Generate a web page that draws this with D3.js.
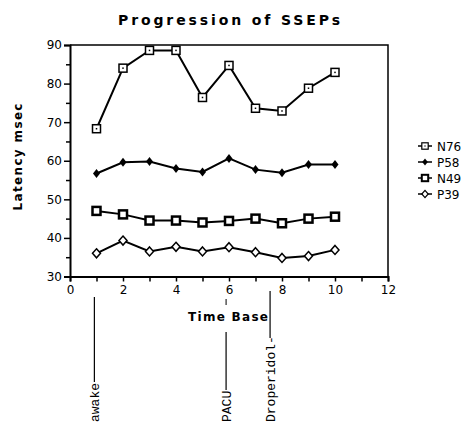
<!DOCTYPE html>
<html lang="en">
<head>
	<meta charset="utf-8">
	<script src="https://d3js.org/d3.v7.min.js"></script>
	<style type="text/css">
		body { margin: 0; background: #fff; }
		svg { font-family: "DejaVu Sans", sans-serif; }
	</style>
</head>
<body>
	<script type="text/javascript">

	// time base positions
	var timeBase = [1, 2, 3, 4, 5, 6, 7, 8, 9, 10];

	var N76 = [68.3, 84.0, 88.6, 88.6, 76.4, 84.7, 73.6, 72.9, 78.8, 82.9];
	var P58 = [56.7, 59.6, 59.8, 58.0, 57.1, 60.6, 57.7, 56.9, 59.0, 59.0];
	var N49 = [47.0, 46.1, 44.5, 44.5, 44.0, 44.4, 45.0, 43.8, 45.0, 45.5];
	var P39 = [36.0, 39.3, 36.5, 37.7, 36.5, 37.6, 36.3, 34.8, 35.3, 36.9];

	var seriesNames = ["N76", "P58", "N49", "P39"];
	var xTicks = [0, 2, 4, 6, 8, 10, 12];
	var yTicks = [30, 40, 50, 60, 70, 80, 90];

	var events = ["awake", "PACU", "Droperidol"];
	var eventTimes = [0.92, 5.89, 7.55];

	var width = 474, height = 423;
	var x = d3.scaleLinear().domain([0, 12]).range([70, 388]);
	var y = d3.scaleLinear().domain([30, 90]).range([276.5, 45]);

	var svg = d3.select("body").append("svg")
		.attr("width", width)
		.attr("height", height);

	// title
	svg.append("text")
		.attr("x", 229).attr("y", 25)
		.attr("text-anchor", "middle")
		.attr("font-size", 14).attr("font-weight", "bold")
		.attr("textLength", 222).attr("lengthAdjust", "spacing")
		.text("Progression of SSEPs");

	// frame top/right
	svg.append("path")
		.attr("d", "M" + x(0) + "," + y(90) + "H" + x(12) + "V" + y(30))
		.attr("fill", "none").attr("stroke", "#000").attr("stroke-width", 1.5);

	// axes
	var yAxis = d3.axisLeft(y).tickValues(d3.range(30, 91, 5)).tickSize(6)
		.tickFormat(function(d) { return yTicks.indexOf(d) >= 0 ? d : ""; });
	var gy = svg.append("g").attr("transform", "translate(" + x(0) + ",0)").call(yAxis);

	var xAxis = d3.axisBottom(x).tickValues(d3.range(0, 13, 1)).tickSize(5)
		.tickFormat(function(d) { return xTicks.indexOf(d) >= 0 ? d : ""; });
	var gx = svg.append("g").attr("transform", "translate(0," + y(30) + ")").call(xAxis);

	[gx, gy].forEach(function(g) {
		g.select(".domain").attr("stroke-width", 2);
		g.selectAll(".tick line").attr("stroke-width", 1.5);
		g.selectAll("text").attr("font-size", 12).attr("fill", "#000")
			.attr("font-family", "DejaVu Sans, sans-serif");
	});
	gy.selectAll(".tick line").attr("x2", function(d) { return d % 10 === 0 ? -6 : -4; });
	gy.selectAll("text").attr("x", -8);
	gx.selectAll("text").attr("y", 9);

	// axis titles
	svg.append("text")
		.attr("transform", "translate(22,157) rotate(-90)")
		.attr("text-anchor", "middle")
		.attr("font-size", 12).attr("font-weight", "bold")
		.attr("textLength", 107).attr("lengthAdjust", "spacing")
		.text("Latency msec");

	svg.append("text")
		.attr("x", 228).attr("y", 321)
		.attr("text-anchor", "middle")
		.attr("font-size", 12).attr("font-weight", "bold")
		.attr("textLength", 80).attr("lengthAdjust", "spacing")
		.text("Time Base");

	// marker shapes
	function marker(g, name) {
		if (name === "N76") {
			g.append("rect").attr("x", -4).attr("y", -4).attr("width", 8).attr("height", 8)
				.attr("fill", "#fff").attr("stroke", "#000").attr("stroke-width", 1.5);
			g.append("rect").attr("x", -0.75).attr("y", -0.75).attr("width", 1.5).attr("height", 1.5).attr("fill", "#000");
		} else if (name === "P58") {
			g.append("path").attr("d", "M0,-4.5L3.5,0L0,4.5L-3.5,0Z").attr("fill", "#000");
		} else if (name === "N49") {
			g.append("rect").attr("x", -4).attr("y", -4).attr("width", 8).attr("height", 8)
				.attr("fill", "#fff").attr("stroke", "#000").attr("stroke-width", 2.5);
		} else {
			g.append("path").attr("d", "M0,-4.5L4,0L0,4.5L-4,0Z")
				.attr("fill", "#fff").attr("stroke", "#000").attr("stroke-width", 1.5);
		}
	}

	var allSeries = [N76, P58, N49, P39];
	var line = d3.line().x(function(d, i) { return x(timeBase[i]); }).y(function(d) { return y(d); });

	allSeries.forEach(function(vals, s) {
		svg.append("path").datum(vals).attr("d", line)
			.attr("fill", "none").attr("stroke", "#000").attr("stroke-width", 2);
		vals.forEach(function(v, i) {
			var g = svg.append("g").attr("transform", "translate(" + x(timeBase[i]) + "," + y(v) + ")");
			marker(g, seriesNames[s]);
		});
	});

	// legend
	seriesNames.forEach(function(name, i) {
		var ly = 146 + i * 16;
		var g = svg.append("g").attr("transform", "translate(425," + ly + ")");
		g.append("line").attr("x1", -7).attr("x2", 7).attr("stroke", "#000").attr("stroke-width", 1.5);
		marker(g.append("g").attr("transform", "scale(0.8)"), name);
		svg.append("text").attr("x", 437).attr("y", ly + 4.5)
			.attr("font-size", 12).text(name);
	});

	// event markers below axis
	var lineRanges = [[297, 382], [332, 390], [291, 338]];
	events.forEach(function(ev, i) {
		var ex = x(eventTimes[i]);
		svg.append("line").attr("x1", ex).attr("x2", ex)
			.attr("y1", lineRanges[i][0]).attr("y2", lineRanges[i][1])
			.attr("stroke", "#000").attr("stroke-width", 1.2);
		svg.append("text")
			.attr("transform", "translate(" + (ex + 4.5) + ",422) rotate(-90)")
			.attr("font-family", "Liberation Mono, monospace")
			.attr("font-size", 13)
			.text(ev === "Droperidol" ? ev + "-" : ev);
	});
	// little mark beside 6
	svg.append("line").attr("x1", x(eventTimes[1])).attr("x2", x(eventTimes[1]))
		.attr("y1", 299).attr("y2", 305).attr("stroke", "#000").attr("stroke-width", 1);

	</script>
</body>
</html>
